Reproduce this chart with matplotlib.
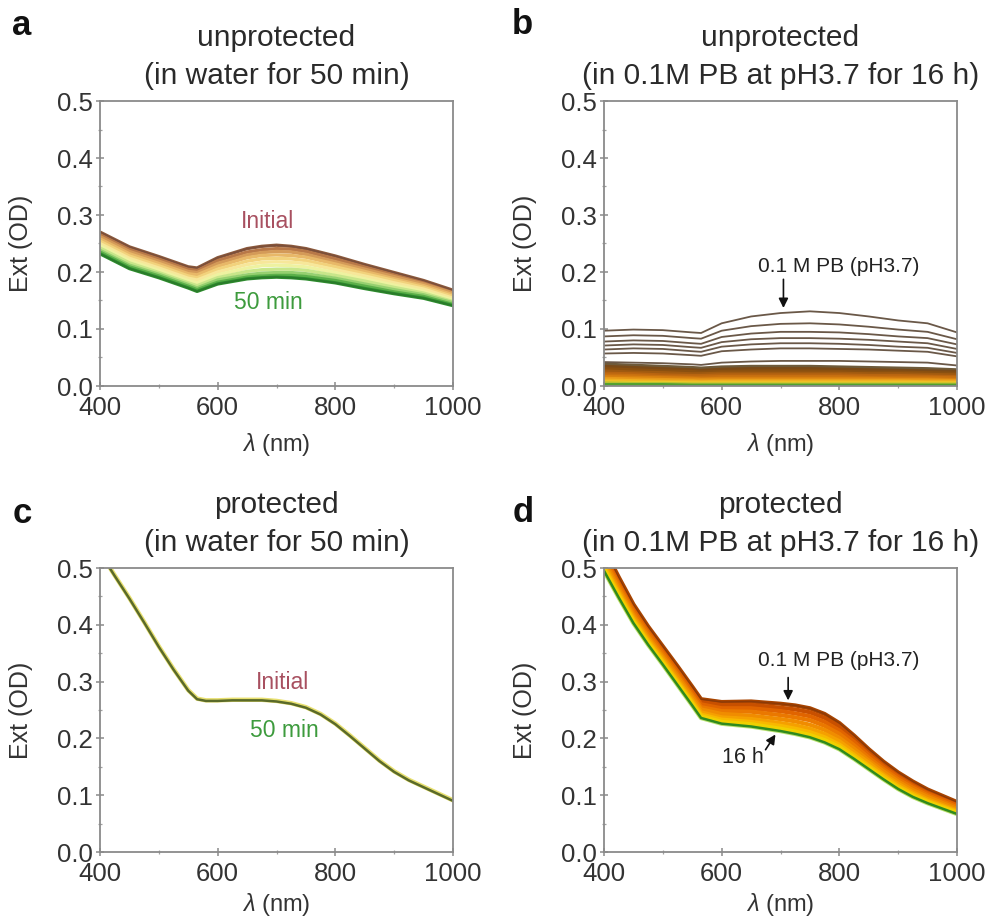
import numpy as np
import matplotlib
matplotlib.use("Agg")
import matplotlib.pyplot as plt
from matplotlib.ticker import MultipleLocator, FormatStrFormatter

plt.rcParams['font.family'] = ['Liberation Sans', 'DejaVu Sans']
plt.rcParams['mathtext.fontset'] = 'custom'
plt.rcParams['mathtext.it'] = 'Liberation Sans:italic'
plt.rcParams['mathtext.rm'] = 'Liberation Sans'

# ---- panel a: unprotected, water, initial -> 50 min
wl_a = [400, 450, 500, 550, 565, 600, 650, 675, 700, 725, 750, 800, 850, 900, 950, 1000]
ext_a = [
    [.270, .244, .227, .209, .207, .225, .241, .245, .247, .245, .241, .228, .213, .199, .185, .168],
    [.266, .240, .223, .205, .203, .220, .235, .239, .241, .240, .236, .223, .209, .195, .182, .165],
    [.262, .236, .219, .201, .199, .215, .230, .234, .236, .235, .231, .218, .205, .192, .179, .163],
    [.258, .232, .215, .197, .195, .210, .225, .229, .230, .229, .226, .214, .201, .188, .176, .160],
    [.254, .228, .211, .193, .190, .205, .219, .223, .224, .223, .220, .209, .197, .185, .173, .157],
    [.250, .224, .207, .189, .186, .200, .213, .217, .218, .217, .215, .204, .193, .181, .170, .154],
    [.246, .220, .203, .185, .181, .195, .207, .211, .212, .211, .209, .199, .188, .177, .166, .151],
    [.242, .216, .199, .181, .176, .190, .201, .204, .205, .205, .203, .194, .184, .173, .163, .148],
    [.238, .212, .196, .178, .172, .186, .195, .198, .199, .199, .197, .189, .179, .169, .160, .146],
    [.235, .209, .193, .175, .169, .182, .191, .193, .194, .194, .192, .185, .175, .165, .157, .143],
    [.232, .206, .190, .172, .166, .179, .188, .190, .191, .190, .188, .181, .171, .162, .154, .141],
]
colors_a = ['#8c5a3c', '#b87848', '#d49a58', '#e8b868', '#f2d27c', '#f7e79a',
            '#eef2a0', '#c8e68a', '#96d070', '#5cb04a', '#2f8f2f']

# ---- panel b: unprotected, 0.1 M PB pH3.7, 16 h
wl_b = [400, 450, 500, 550, 565, 600, 650, 700, 750, 800, 850, 900, 950, 1000]
ext_b_upper = [
    [.097, .099, .098, .094, .093, .110, .122, .128, .131, .128, .122, .115, .110, .094],
    [.087, .089, .088, .084, .083, .097, .105, .109, .110, .108, .104, .099, .095, .082],
    [.078, .080, .079, .075, .074, .086, .092, .095, .095, .094, .091, .087, .084, .073],
    [.071, .073, .072, .068, .067, .077, .082, .084, .084, .083, .081, .078, .075, .065],
    [.064, .066, .065, .061, .060, .069, .073, .075, .075, .074, .072, .069, .067, .058],
    [.057, .058, .057, .054, .053, .061, .064, .066, .066, .065, .064, .062, .060, .052],
    [.042, .041, .040, .038, .037, .041, .043, .044, .044, .044, .043, .042, .041, .036],
]
ext_b_band = [
    [.038, .036, .034, .032, .031, .033, .034, .034, .034, .033, .032, .031, .030, .028],
    [.034, .032, .030, .028, .027, .029, .030, .030, .030, .029, .028, .027, .026, .025],
    [.030, .028, .026, .025, .024, .025, .026, .026, .026, .025, .024, .024, .023, .022],
    [.026, .024, .023, .021, .021, .022, .022, .022, .022, .022, .021, .021, .020, .019],
    [.022, .021, .019, .018, .018, .019, .019, .019, .019, .019, .018, .018, .017, .016],
    [.019, .018, .016, .015, .015, .016, .016, .016, .016, .016, .015, .015, .015, .014],
    [.016, .015, .014, .013, .012, .013, .013, .013, .013, .013, .013, .012, .012, .011],
    [.013, .012, .011, .010, .010, .010, .010, .010, .010, .010, .010, .010, .010, .009],
    [.010, .009, .008, .008, .007, .008, .008, .008, .008, .008, .008, .008, .007, .007],
    [.007, .006, .006, .005, .005, .005, .005, .005, .005, .005, .005, .005, .005, .005],
    [.005, .004, .004, .003, .003, .003, .003, .003, .003, .003, .003, .003, .003, .003],
    [.002, .002, .002, .001, .001, .001, .001, .001, .001, .001, .001, .001, .001, .001],
]
colors_b_band = ['#6e5a3a', '#7a4a18', '#8a5010', '#a05a10', '#b86410', '#c87010',
                 '#d88010', '#e89818', '#f0b020', '#f0c828', '#b8c030', '#50a030']

# ---- panel c: protected, water
wl_c = [400, 425, 450, 475, 500, 525, 550, 565, 580, 600, 625, 650, 675, 700, 725, 750,
        775, 800, 825, 850, 875, 900, 925, 950, 975, 1000]
ext_c_initial = [.528, .487, .447, .405, .362, .322, .285, .270, .267, .267, .268, .268, .268,
                 .266, .262, .255, .243, .226, .205, .183, .161, .142, .127, .115, .103, .091]
ext_c_final = [.527, .486, .446, .404, .361, .321, .284, .269, .266, .266, .267, .267, .267,
               .265, .261, .254, .242, .225, .204, .182, .160, .141, .126, .114, .102, .090]

# ---- panel d: protected, 0.1 M PB pH3.7, 16 h
wl_d = [400, 425, 450, 475, 500, 525, 550, 565, 600, 650, 700, 725, 750, 775, 800, 825,
        850, 875, 900, 925, 950, 1000]
ext_d = [
    [.535, .484, .436, .397, .362, .327, .291, .269, .264, .265, .261, .258, .253, .243, .227, .205, .181, .159, .140, .124, .110, .088],
    [.529, .479, .431, .392, .357, .322, .286, .264, .259, .259, .254, .251, .246, .236, .221, .199, .176, .155, .136, .120, .107, .085],
    [.524, .474, .427, .388, .353, .318, .282, .260, .253, .253, .248, .244, .239, .229, .214, .194, .171, .150, .132, .116, .103, .082],
    [.518, .469, .422, .384, .349, .313, .277, .255, .248, .247, .241, .237, .232, .222, .208, .188, .166, .146, .128, .113, .100, .079],
    [.513, .464, .417, .379, .344, .309, .273, .251, .243, .240, .234, .230, .224, .215, .201, .182, .161, .142, .124, .109, .097, .076],
    [.507, .459, .413, .375, .340, .304, .268, .246, .237, .234, .227, .223, .217, .208, .195, .176, .157, .137, .120, .105, .093, .073],
    [.502, .455, .409, .371, .336, .300, .264, .242, .233, .229, .222, .217, .211, .202, .189, .171, .152, .134, .116, .102, .090, .071],
    [.498, .451, .406, .368, .333, .297, .261, .239, .229, .225, .217, .212, .206, .197, .185, .167, .149, .130, .113, .099, .088, .069],
    [.495, .448, .403, .365, .330, .294, .258, .236, .226, .221, .213, .208, .202, .193, .181, .164, .146, .128, .111, .097, .086, .067],
]
colors_d = ['#a84400', '#c85000', '#e06400', '#ea7800', '#f08c00', '#f5a000',
            '#f8b800', '#f0d000', '#2f8a1e']

titles = ["unprotected\n(in water for 50 min)",
          "unprotected\n(in 0.1M PB at pH3.7 for 16 h)",
          "protected\n(in water for 50 min)",
          "protected\n(in 0.1M PB at pH3.7 for 16 h)"]
letters = ['a', 'b', 'c', 'd']

W, H = 998, 922
fig = plt.figure(figsize=(W / 100, H / 100), dpi=100)

# axes boxes in pixels: left, top, right, bottom
boxes = [(100, 101, 453, 386), (604, 101, 957, 386),
         (100, 568, 453, 852), (604, 568, 957, 852)]
letter_pos = [(22, 35), (522, 34), (22, 523), (523, 522)]
xlabel_y = [-0.158, -0.158, -0.138, -0.138]

axes = []
for (l, t, r, b), title, let, (lx, ly), xly in zip(boxes, titles, letters, letter_pos, xlabel_y):
    ax = fig.add_axes([l / W, 1 - b / H, (r - l) / W, (b - t) / H])
    ax.set_xlim(400, 1000)
    ax.set_ylim(0, 0.5)
    ax.xaxis.set_major_locator(MultipleLocator(200))
    ax.xaxis.set_minor_locator(MultipleLocator(100))
    ax.yaxis.set_major_locator(MultipleLocator(0.1))
    ax.yaxis.set_minor_locator(MultipleLocator(0.05))
    ax.yaxis.set_major_formatter(FormatStrFormatter('%.1f'))
    for s in ax.spines.values():
        s.set_color('#8a8a8a')
        s.set_linewidth(1.3)
    ax.tick_params(which='major', direction='inout', length=6, width=1.1, color='#8a8a8a',
                   labelsize=18.5, labelcolor='#333333', pad=2)
    ax.tick_params(axis='x', which='major', pad=4)
    ax.tick_params(which='minor', direction='inout', length=3, width=0.9, color='#a0a0a0')
    ax.set_title(title, fontsize=21.5, color='#2a2a2a', linespacing=1.45, pad=12)
    ax.set_ylabel('Ext (OD)', fontsize=18, color='#333333')
    ax.yaxis.set_label_coords(-0.19, 0.5)
    ax.set_xlabel(r'$\lambda$ (nm)', fontsize=17, color='#333333')
    ax.xaxis.set_label_coords(0.5, xly)
    fig.text(lx / W, 1 - ly / H, let, fontsize=25, fontweight='bold', ha='center',
             va='baseline', color='#111111')
    axes.append(ax)

ax_a, ax_b, ax_c, ax_d = axes

# panel a
for row, c in zip(ext_a, colors_a):
    ax_a.plot(wl_a, row, color=c, lw=2.4, solid_capstyle='butt')
ax_a.plot(wl_a, ext_a[0], color='#7a4e3a', lw=1.0)
ax_a.plot(wl_a, ext_a[-1], color='#2a7a2a', lw=1.2)
ax_a.text(684, 0.288, 'Initial', color='#a85060', fontsize=16.5, ha='center', va='center')
ax_a.text(686, 0.146, '50 min', color='#3d9b3d', fontsize=16.5, ha='center', va='center')

# panel b
for row, c in zip(ext_b_band, colors_b_band):
    ax_b.plot(wl_b, row, color=c, lw=2.6, solid_capstyle='butt')
for row in ext_b_upper:
    ax_b.plot(wl_b, row, color='#6a5848', lw=1.3)
ax_b.annotate('', xy=(705, 0.132), xytext=(705, 0.192),
              arrowprops=dict(arrowstyle='-|>', color='#111111', lw=1.2, mutation_scale=14))
ax_b.text(799, 0.209, '0.1 M PB (pH3.7)', fontsize=15, color='#222222',
          ha='center', va='center')

# panel c
ax_c.plot(wl_c, ext_c_initial, color='#e8e070', lw=3.2)
ax_c.plot(wl_c, ext_c_final, color='#5a6a2a', lw=1.8)
ax_c.text(711, 0.298, 'Initial', color='#a85060', fontsize=16.5, ha='center', va='center')
ax_c.text(714, 0.214, '50 min', color='#3d9b3d', fontsize=16.5, ha='center', va='center')

# panel d
ax_d.plot(wl_d, ext_d[-1], color='#b8e070', lw=3.2)
for row, c in zip(ext_d[:-1], colors_d[:-1]):
    ax_d.plot(wl_d, row, color=c, lw=3.0, solid_capstyle='butt')
ax_d.plot(wl_d, ext_d[0], color='#8a3a08', lw=1.0)
ax_d.plot(wl_d, ext_d[-1], color=colors_d[-1], lw=1.8)
ax_d.annotate('', xy=(713, 0.262), xytext=(713, 0.312),
              arrowprops=dict(arrowstyle='-|>', color='#111111', lw=1.2, mutation_scale=14))
ax_d.text(799, 0.337, '0.1 M PB (pH3.7)', fontsize=15, color='#222222',
          ha='center', va='center')
ax_d.annotate('', xy=(694, 0.211), xytext=(672, 0.176),
              arrowprops=dict(arrowstyle='-|>', color='#111111', lw=1.2, mutation_scale=14))
ax_d.text(636, 0.167, '16 h', fontsize=15.5, color='#222222', ha='center', va='center')

fig.savefig('out.png', dpi=100)
